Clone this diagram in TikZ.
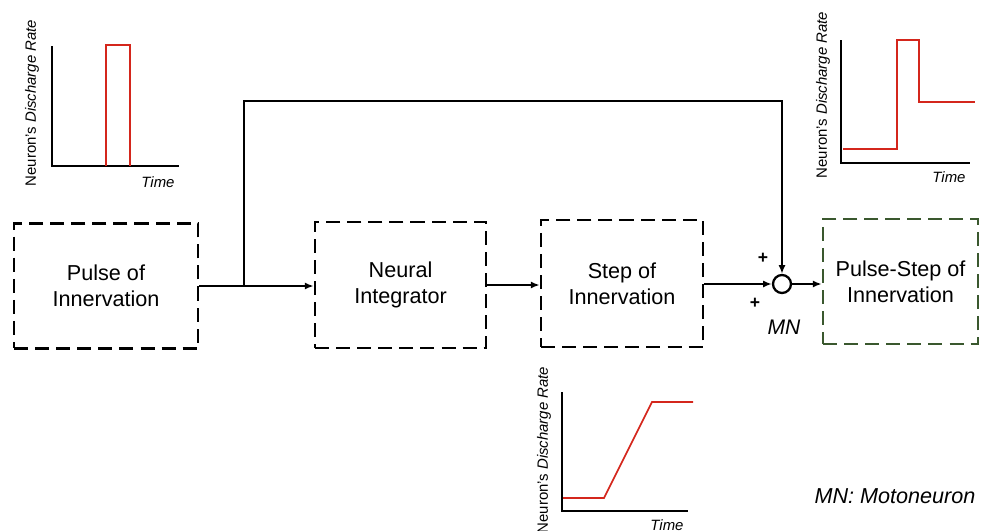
\documentclass[tikz,border=0pt]{standalone}
\usepackage{fontspec}
\setmainfont{Liberation Sans}
\usetikzlibrary{arrows.meta}
\definecolor{boxgreen}{RGB}{58,88,46}
\definecolor{curvered}{RGB}{212,38,28}

\begin{document}
\begin{tikzpicture}[x=0.02cm,y=-0.02cm,
	block/.style={draw, line width=1.5pt, dash pattern=on 8pt off 4pt, align=center, font=\fontsize{12.3}{14.8}\selectfont},
	sumnode/.style={draw, circle, line width=1.3pt, minimum size=0.36cm, inner sep=0pt},
	arr/.style={line width=1.3pt, -{Latex[length=5pt,width=4pt]}},
	axis/.style={line width=1.2pt},
	curve/.style={curvered, line width=0.9pt},
	ylab/.style={rotate=90, font=\fontsize{8.5}{10}\selectfont},
	tlab/.style={font=\fontsize{8.5}{10}\selectfont\itshape}]
	
	\useasboundingbox (0,0) rectangle (981,531);
	
	% blocks
	\node[block, minimum width=3.68cm, minimum height=2.5cm] (pulse) at (106,286) {Pulse of\\Innervation};
	\node[block, minimum width=3.42cm, minimum height=2.52cm] (integ) at (400.5,285) {Neural\\Integrator};
	\node[block, minimum width=3.24cm, minimum height=2.54cm] (stepinn) at (622,283.5) {Step of\\Innervation};
	\node[block, boxgreen, text=black, minimum width=3.1cm, minimum height=2.5cm] (pulsestep) at (900.5,281.5) {Pulse-Step of\\Innervation};
	\node[sumnode] (mn) at (782,284) {};
	
	% connectors
	\coordinate (split) at (244,286);
	\coordinate (fbtop) at (244,101);
	\draw[arr] (pulse.east) -- (pulse.east -| integ.west);
	\draw[arr] (integ.east) -- (integ.east -| stepinn.west);
	\draw[arr] (stepinn.east |- mn) -- (mn.west);
	\draw[arr] (mn.east) -- (mn.east -| pulsestep.west);
	\draw[arr] (split) -- (fbtop) -| (mn.north);
	
	\node[font=\fontsize{10}{12}\selectfont\bfseries] (plusa) at (763,258) {+};
	\node[font=\fontsize{10}{12}\selectfont\bfseries] (plusb) at (755,303) {+};
	\node[font=\fontsize{12}{14}\selectfont\itshape] (mnlab) at (784,327) {MN};
	\node[font=\fontsize{12.3}{14}\selectfont\itshape] (legend) at (895,496) {MN: Motoneuron};
	
	% pulse plot
	\draw[axis] (52,46) -- (52,166) -- (179,166);
	\draw[curve] (106,166) -- (106,45) -- (130,45) -- (130,166);
	\node[ylab] (ylaba) at (32,103) {Neuron's \textit{Discharge Rate}};
	\node[tlab] (tima) at (158,182) {Time};
	
	% pulse-step plot
	\draw[axis] (841,40) -- (841,163) -- (970,163);
	\draw[curve] (843,149) -- (897,149) -- (897,40) -- (919,40) -- (919,102) -- (975,102);
	\node[ylab] (ylabb) at (823,95) {Neuron's \textit{Discharge Rate}};
	\node[tlab] (timb) at (949,177) {Time};
	
	% step plot
	\draw[axis] (562,392) -- (562,511) -- (688,511);
	\draw[curve] (563,498) -- (604,498) -- (652,402) -- (693,402);
	\node[ylab] (ylabc) at (544,450) {Neuron's \textit{Discharge Rate}};
	\node[tlab] (timc) at (667,525) {Time};

\end{tikzpicture}
\end{document}
